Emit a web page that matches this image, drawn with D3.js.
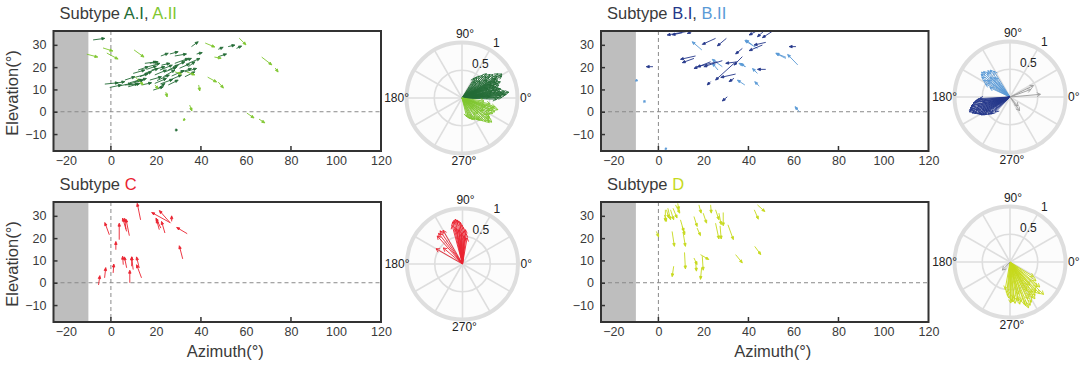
<!DOCTYPE html>
<html>
<head>
<meta charset="utf-8">
<script src="https://cdn.jsdelivr.net/npm/d3@7"></script>
<style>
body { margin: 0; background: #fff; }
svg text { font-family: "Liberation Sans", Arial, Helvetica, sans-serif; }
</style>
</head>
<body>
<script>
// field arrows: [azimuth0, elevation0, azimuth1, elevation1] (tail -> head), degrees
var arrowsAI = [
  [-2.7,12.4,3.3,13.0],[-0.5,10.9,4.7,12.0],[1.8,12.7,6.2,13.5],[3.3,11.5,9.2,12.7],
  [6.2,14.2,10.7,15.7],[7.7,11.2,12.9,12.7],[9.9,17.2,15.1,18.7],[12.1,18.7,16.6,20.2],
  [10.7,13.5,15.8,14.9],[12.9,15.7,18.1,17.9],[15.1,21.7,20.3,22.4],[16.6,20.2,21.8,21.7],
  [15.1,17.2,21.0,19.4],[17.3,14.2,22.5,15.7],[18.1,18.7,24.0,20.2],[19.5,16.5,24.7,18.7],
  [19.5,12.7,24.7,14.9],[21.0,10.5,24.0,12.7],[22.5,20.9,26.2,21.7],[23.3,15.7,28.4,18.7],
  [25.5,18.7,29.9,20.9],[26.2,14.2,31.4,16.5],[27.7,20.2,32.9,22.4],[28.4,21.7,34.4,23.9],
  [29.9,17.2,35.8,19.4],[31.4,22.4,35.8,23.9],[32.9,15.7,37.3,17.9],[34.4,20.2,37.3,22.4],
  [34.4,21.7,39.6,23.9],[18.8,9.7,23.3,11.2],[13.6,12.0,18.1,13.0],[6.2,12.0,12.1,12.4],
  [9.2,12.7,14.4,14.2],[25.5,12.0,29.9,14.2],[21.8,18.7,27.3,20.9],[15.8,19.0,20.3,20.5],
  [17.3,21.7,21.0,22.4],[32.9,17.9,38.1,19.4],[24.0,17.9,29.2,19.9],[35.8,29.2,38.8,31.4],
  [47.7,28.0,49.9,28.9],[52.1,29.2,55.1,29.9],[22.2,25.0,25.5,26.2],[26.2,25.9,29.9,26.9],
  [28.4,25.0,33.6,25.9],[38.1,25.9,40.6,26.5],[47.7,24.7,51.4,25.9],[55.8,28.4,58.1,29.5],
  [-7.9,32.2,-2.7,32.9],[28.4,-8.2,29.6,-8.2],[11.0,15.5,16.5,17.0],[20.5,14.0,26.0,16.5],
  [27.0,16.0,32.5,18.5],[8.5,13.0,13.5,14.5],[30.5,19.5,35.0,21.5],[22.0,12.5,27.5,14.5]
];
var arrowsAII = [
  [-10.7,25.8,-5.8,24.5],[-3.5,28.6,0.9,27.2],[-1.8,26.3,3.2,23.6],[10.3,27.7,14.7,24.5],
  [41.9,30.8,46.2,29.0],[46.0,24.5,49.0,24.0],[57.0,33.0,60.0,30.0],[67.0,24.5,71.5,21.0],
  [73.0,19.6,74.3,17.8],[43.0,15.5,47.0,13.3],[47.7,13.3,50.0,10.6],[39.0,12.0,39.5,9.3],
  [24.4,8.8,25.0,6.6],[35.0,3.0,36.0,0.3],[60.4,-0.6,63.6,-2.8],[65.8,-3.3,68.4,-5.0],
  [32.0,-3.3,33.0,-3.7],[10.7,15.7,14.4,12.0],[19.6,12.0,21.0,10.2],[33.6,17.9,37.3,16.5],
  [28.4,17.9,31.4,16.9]
];
var arrowsBI = [
  [12.8,36.0,3.9,34.4],[10.6,35.4,6.1,34.5],[15.0,36.0,12.8,35.1],[25.4,32.9,19.5,30.2],
  [30.2,32.9,26.2,29.5],[43.3,36.0,40.3,34.4],[46.7,36.0,44.0,33.6],[50.4,35.9,46.2,33.2],
  [47.7,31.1,42.5,29.9],[46.2,29.9,40.3,27.4],[61.1,29.2,58.1,29.2],[37.3,28.4,34.3,25.9],
  [16.5,25.0,9.8,23.5],[15.8,23.9,10.6,22.0],[23.2,22.4,15.8,19.4],[26.2,22.4,17.3,20.2],
  [28.4,22.9,20.2,20.2],[35.1,22.4,29.9,21.7],[37.3,24.7,33.6,20.9],[33.6,21.7,25.4,14.2],
  [34.3,16.9,27.7,15.4],[47.7,19.0,44.0,19.0],[23.2,13.5,21.7,12.0],[30.6,6.7,28.4,4.8],
  [33.6,15.0,31.4,13.5],[-2.4,20.2,-5.4,20.2]
];
var arrowsBII = [
  [19.3,27.7,15.0,31.4],[44.0,28.4,38.4,31.9],[56.7,24.4,52.2,26.2],[61.9,21.0,57.4,25.7],
  [28.4,20.2,23.9,23.5],[38.4,20.2,36.6,21.7],[44.0,17.2,41.8,19.4],[38.4,12.0,35.1,14.2],
  [44.8,11.5,42.8,13.5],[62.6,0.0,60.7,2.3],[-9.5,13.5,-9.9,14.5],[-5.8,4.1,-6.5,5.0],
  [3.6,-17.0,3.1,-16.2],[38.8,20.2,35.8,21.7],[26.5,18.7,24.0,21.7],[41.8,29.9,38.8,32.2],
  [56.6,23.9,52.2,26.2]
];
var arrowsC = [
  [13.2,28.2,11.7,35.6],[26.2,27.0,18.1,31.5],[26.5,26.7,21.5,32.4],[22.2,24.5,20.0,29.0],
  [24.0,22.3,22.5,27.5],[21.5,23.8,20.3,28.2],[27.0,27.5,27.0,30.0],[33.9,22.0,29.2,24.8],
  [31.9,10.7,30.4,16.6],[-0.7,21.5,-2.7,27.0],[2.2,14.8,2.2,18.5],[3.7,19.3,3.7,26.7],
  [7.0,23.0,5.2,29.0],[8.2,21.1,6.7,28.5],[6.7,24.0,6.1,28.9],[5.5,8.1,5.2,11.9],
  [7.0,6.7,6.0,11.6],[9.9,5.9,9.2,11.6],[9.2,7.4,9.3,11.6],[13.6,2.2,11.4,8.1],
  [12.6,6.6,11.4,11.6],[8.4,0.0,8.4,5.6],[1.0,4.4,1.3,8.4],[-2.8,2.2,-2.3,6.8],
  [-5.5,-1.0,-4.9,3.2]
];
var arrowsD = [
  [3.1,32.7,3.1,27.5],[4.2,33.4,5.4,28.2],[5.4,32.7,6.8,28.2],[6.5,33.4,8.3,29.0],
  [2.7,30.4,3.6,27.5],[7.6,34.9,9.5,31.2],[18.0,34.9,19.0,31.2],[23.2,34.9,23.5,31.2],
  [19.9,31.2,21.4,26.7],[25.4,32.7,26.9,28.2],[26.9,31.2,27.9,26.0],[28.8,31.5,28.8,25.5],
  [9.8,28.2,11.3,23.0],[10.6,25.2,11.7,21.5],[15.8,29.7,17.2,25.2],[17.2,24.5,18.7,21.1],
  [25.4,26.7,26.9,19.6],[27.4,25.5,27.9,19.6],[30.9,26.0,33.3,19.3],[6.1,23.0,7.1,16.3],
  [11.0,22.3,12.0,16.3],[11.6,13.6,12.0,6.2],[15.8,11.1,17.2,8.1],[16.5,9.6,16.9,5.2],
  [19.5,11.9,19.9,5.6],[18.7,12.6,22.4,10.4],[19.2,6.7,18.7,1.5],[6.8,7.4,6.1,2.7],
  [34.3,12.6,37.3,8.9],[42.8,16.3,45.5,12.6],[-0.9,23.0,0.1,20.5],[44.0,34.9,47.3,31.9],
  [42.6,32.7,44.4,28.5],[8.6,35.6,9.1,32.7],[3.6,32.7,4.6,29.0]
];

// polar vectors: [angle (deg), length (0-1)]
var polarAI = [
  [58,0.42],[52,0.5],[48,0.55],[45,0.62],[42,0.58],[40,0.66],[37,0.7],[34,0.78],[31,0.84],
  [29,0.82],[27,0.72],[25,0.68],[23,0.75],[21,0.62],[19,0.7],[17,0.6],[15,0.66],[13,0.72],
  [11,0.62],[9,0.78],[7,0.85],[5,0.8],[3,0.7],[1,0.72],[-2,0.62],[35,0.55],[28,0.6],
  [20,0.5],[12,0.55],[44,0.45],[50,0.38],[3,0.5],[55,0.46],[38,0.62],[32,0.74],[26,0.66],
  [22,0.7],[18,0.64],[14,0.7],[10,0.68],[8,0.72],[6,0.75],[4,0.78],[0,0.66],[30,0.7],[24,0.58]
];
var polarAII = [
  [-8,0.4],[-12,0.52],[-15,0.62],[-18,0.68],[-21,0.6],[-24,0.55],[-27,0.62],[-30,0.58],
  [-33,0.55],[-36,0.62],[-39,0.69],[-42,0.66],[-45,0.6],[-48,0.55],[-51,0.52],[-55,0.48],
  [-60,0.45],[-66,0.42],[-72,0.38],[-76,0.35],[-30,0.45],[-45,0.4],[-20,0.45],[-17,0.6],
  [-23,0.64],[-35,0.6],[-40,0.64],[-53,0.5],[-63,0.44],[-69,0.4]
];
var polarBI = [
  [183,0.55],[186,0.62],[189,0.67],[192,0.7],[195,0.74],[198,0.77],[200,0.78],[202,0.72],
  [205,0.7],[207,0.66],[210,0.63],[212,0.61],[215,0.55],[218,0.5],[222,0.45],[226,0.38],
  [195,0.6],[205,0.55],[190,0.5],[200,0.65],[210,0.5],[188,0.64],[193,0.72],[197,0.75],
  [203,0.74],[208,0.64],[213,0.58],[220,0.48],[185,0.58]
];
var polarBII = [
  [122,0.55],[126,0.6],[130,0.62],[133,0.6],[136,0.66],[139,0.68],[142,0.66],[145,0.62],
  [148,0.56],[152,0.5],[155,0.4],[135,0.5],[128,0.45],[143,0.5]
];
var polarBmean = [[26,0.47],[20,0.4],[5,0.55],[-55,0.3],[-48,0.22]];
var polarC = [
  [80,0.48],[83,0.55],[85,0.62],[87,0.6],[89,0.66],[91,0.7],[93,0.75],[95,0.78],[97,0.8],
  [99,0.82],[101,0.8],[103,0.78],[105,0.72],[92,0.55],[96,0.62],[100,0.65],[86,0.5],
  [120,0.7],[124,0.72],[128,0.7],[132,0.68],[150,0.55],[140,0.45]
];
var polarD = [
  [-32,0.5],[-36,0.58],[-40,0.7],[-44,0.84],[-47,0.78],[-50,0.72],[-53,0.75],[-56,0.8],
  [-59,0.7],[-62,0.82],[-65,0.86],[-68,0.89],[-71,0.8],[-74,0.74],[-77,0.78],[-80,0.7],
  [-83,0.75],[-86,0.72],[-89,0.74],[-92,0.65],[-96,0.55],[-100,0.5],[-60,0.6],[-75,0.6],
  [-50,0.55],[-42,0.66],[-48,0.7],[-54,0.68],[-58,0.76],[-64,0.74],[-70,0.84],[-78,0.72],
  [-84,0.66],[-88,0.7],[-94,0.6]
];
var polarDmean = [[227,0.2]];

var xTicks = [-20, 0, 20, 40, 60, 80, 100, 120];
var yTicks = [-10, 0, 10, 20, 30];
var polarSpokes = d3.range(0, 360, 30);

var col = {
  title: "#3a3a3a", AI: "#236b35", AII: "#7fc62f", BI: "#24378a", BII: "#5a9ad6",
  C: "#ea2330", D: "#c6d91c", mean: "#9a9a9a"
};

var W = 327.5, H = 120;
var svg = d3.select("body").append("svg").attr("width", 1081).attr("height", 365);

var xScale = d3.scaleLinear().domain([-25.5, 120]).range([0, W]);
var yScale = d3.scaleLinear().domain([-17.6, 36.2]).range([H, 0]);
var rScale = d3.scaleLinear().domain([0, 1]).range([0, 55.5]);

function arrowPath(x0, y0, x1, y1, hl, hw, open) {
  var dx = x1 - x0, dy = y1 - y0, L = Math.hypot(dx, dy) || 1;
  var ux = dx / L, uy = dy / L;
  hl = Math.min(hl, L * 0.6);
  var bx = x1 - ux * hl, by = y1 - uy * hl;
  var p = "M" + x0 + "," + y0 + "L" + (open ? x1 : bx) + "," + (open ? y1 : by);
  if (open) {
    p += "M" + (bx - uy * hw) + "," + (by + ux * hw) + "L" + x1 + "," + y1 + "L" + (bx + uy * hw) + "," + (by - ux * hw);
  } else {
    p += "M" + x1 + "," + y1 + "L" + (bx - uy * hw) + "," + (by + ux * hw) + "L" + (bx + uy * hw) + "," + (by - ux * hw) + "Z";
  }
  return p;
}

function fieldPanel(px, py, titleParts, series, showY, showX) {
  var g = svg.append("g").attr("transform", "translate(" + px + "," + py + ")");

  g.append("rect").attr("x", xScale(-25.5)).attr("y", 0)
    .attr("width", xScale(-10) - xScale(-25.5)).attr("height", H).attr("fill", "#bebebe");

  g.append("line").attr("x1", xScale(0)).attr("x2", xScale(0)).attr("y1", 0).attr("y2", H)
    .attr("stroke", "#8a8a8a").attr("stroke-dasharray", "4,3");
  g.append("line").attr("x1", 0).attr("x2", W).attr("y1", yScale(0)).attr("y2", yScale(0))
    .attr("stroke", "#8a8a8a").attr("stroke-dasharray", "4,3");

  series.forEach(function(s) {
    g.append("g").selectAll("path").data(s.data).enter().append("path")
      .attr("d", function(d) { return arrowPath(xScale(d[0]), yScale(d[1]), xScale(d[2]), yScale(d[3]), 3, 1.2); })
      .attr("stroke", s.color).attr("fill", s.color).attr("stroke-width", 0.9)
      .attr("stroke-linejoin", "round");
  });

  // axes
  var xAxis = g.append("g").attr("transform", "translate(0," + H + ")")
    .call(d3.axisBottom(xScale).tickValues(xTicks).tickSize(0).tickPadding(5));
  xAxis.select(".domain").remove();
  xAxis.selectAll("text").attr("font-size", 12.5).attr("fill", "#3a3a3a")
    .attr("font-family", "Liberation Sans, Arial, sans-serif");

  var yAxis = g.append("g")
    .call(d3.axisLeft(yScale).tickValues(yTicks).tickSizeInner(-4).tickSizeOuter(0).tickPadding(7));
  yAxis.select(".domain").remove();
  yAxis.selectAll("line").attr("stroke", "#333").attr("stroke-width", 1.5);
  yAxis.selectAll("text").attr("font-size", 12.5).attr("fill", "#3a3a3a")
    .attr("font-family", "Liberation Sans, Arial, sans-serif");

  g.append("g").selectAll("line").data([0, 40, 80]).enter().append("line")
    .attr("x1", function(d) { return xScale(d); }).attr("x2", function(d) { return xScale(d); })
    .attr("y1", H).attr("y2", H - 5).attr("stroke", "#333").attr("stroke-width", 1.5);

  g.append("rect").attr("width", W).attr("height", H)
    .attr("fill", "none").attr("stroke", "#333").attr("stroke-width", 2);

  var t = g.append("text").attr("x", 6).attr("y", -12).attr("font-size", 16.5);
  titleParts.forEach(function(p) { t.append("tspan").attr("fill", p[1]).text(p[0]); });

  if (showY) {
    g.append("text").attr("transform", "translate(" + (-36) + "," + (H / 2 + 2) + ") rotate(-90)")
      .attr("text-anchor", "middle").attr("font-size", 16.5).attr("fill", "#3a3a3a").text("Elevation(°)");
  }
  if (showX) {
    g.append("text").attr("x", W / 2 + 8).attr("y", H + 35)
      .attr("text-anchor", "middle").attr("font-size", 16.5).attr("fill", "#3a3a3a").text("Azimuth(°)");
  }
}

function polarPanel(cx, cy, series) {
  var g = svg.append("g").attr("transform", "translate(" + cx + "," + cy + ")");
  g.append("circle").attr("r", rScale(1)).attr("fill", "#fcfcfc");
  g.selectAll(".spoke").data(polarSpokes).enter().append("line")
    .attr("x2", function(d) { return rScale(1) * Math.cos(d * Math.PI / 180); })
    .attr("y2", function(d) { return -rScale(1) * Math.sin(d * Math.PI / 180); })
    .attr("stroke", "#dedede").attr("stroke-width", 1.6);
  g.append("circle").attr("r", rScale(0.5)).attr("fill", "none").attr("stroke", "#dedede").attr("stroke-width", 1.6);
  g.append("circle").attr("r", rScale(1)).attr("fill", "none").attr("stroke", "#dedede").attr("stroke-width", 4);

  series.forEach(function(s) {
    g.append("g").selectAll("path").data(s.data).enter().append("path")
      .attr("d", function(d) {
        var a = d[0] * Math.PI / 180, r = rScale(d[1]);
        return arrowPath(0, 0, r * Math.cos(a), -r * Math.sin(a), 3.5, 2, true);
      })
      .attr("stroke", s.color).attr("fill", "none").attr("stroke-width", 0.9);
  });

  var lab = [
    ["90°", 3, -60, "middle"], ["270°", 2, 67, "middle"], ["180°", -53, 4, "end"],
    ["0°", 58, 4, "start"], ["1", 31, -51, "start"], ["0.5", 10, -30, "start"]
  ];
  g.selectAll(".lab").data(lab).enter().append("text")
    .attr("x", function(d) { return d[1]; }).attr("y", function(d) { return d[2]; })
    .attr("text-anchor", function(d) { return d[3]; })
    .attr("font-size", 12).attr("fill", "#222").text(function(d) { return d[0]; });
}

fieldPanel(53.5, 31, [["Subtype ", col.title], ["A.I", col.AI], [", ", col.title], ["A.II", col.AII]],
  [{data: arrowsAI, color: col.AI}, {data: arrowsAII, color: col.AII}], true, false);
fieldPanel(601, 31, [["Subtype ", col.title], ["B.I", col.BI], [", ", col.title], ["B.II", col.BII]],
  [{data: arrowsBII, color: col.BII}, {data: arrowsBI, color: col.BI}], false, false);
fieldPanel(53.5, 202, [["Subtype ", col.title], ["C", col.C]],
  [{data: arrowsC, color: col.C}], true, true);
fieldPanel(601, 202, [["Subtype ", col.title], ["D", col.D]],
  [{data: arrowsD, color: col.D}], false, true);

polarPanel(462, 98, [{data: polarAI, color: col.AI}, {data: polarAII, color: col.AII}]);
polarPanel(1010, 97, [{data: polarBII, color: col.BII}, {data: polarBI, color: col.BI}, {data: polarBmean, color: col.mean}]);
polarPanel(462.5, 264, [{data: polarC, color: col.C}]);
polarPanel(1010, 262, [{data: polarD, color: col.D}, {data: polarDmean, color: col.mean}]);
</script>
</body>
</html>
